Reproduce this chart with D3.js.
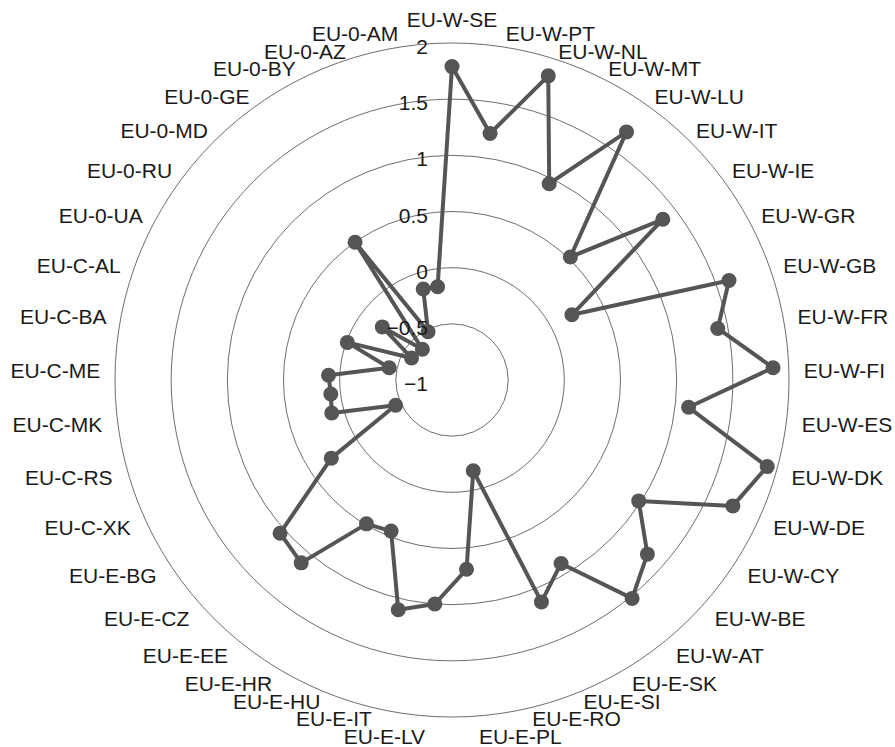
<!DOCTYPE html>
<html><head><meta charset="utf-8">
<script src="https://cdn.jsdelivr.net/npm/d3@7"></script>
<style>
body{margin:0;background:#fff}
text{font-family:"Liberation Sans",Arial,Helvetica,sans-serif}
</style>
</head><body>
<svg id="c" width="895" height="747"></svg>
<script>
const categories = ["EU-W-SE","EU-W-PT","EU-W-NL","EU-W-MT","EU-W-LU","EU-W-IT","EU-W-IE","EU-W-GR","EU-W-GB","EU-W-FR","EU-W-FI","EU-W-ES","EU-W-DK","EU-W-DE","EU-W-CY","EU-W-BE","EU-W-AT",
  "EU-E-SK","EU-E-SI","EU-E-RO","EU-E-PL","EU-E-LV","EU-E-IT","EU-E-HU","EU-E-HR","EU-E-EE","EU-E-CZ","EU-E-BG",
  "EU-C-XK","EU-C-RS","EU-C-MK","EU-C-ME","EU-C-BA","EU-C-AL",
  "EU-0-UA","EU-0-RU","EU-0-MD","EU-0-GE","EU-0-BY","EU-0-AZ","EU-0-AM"];
const values = [1.79,1.22,1.84,0.95,1.70,0.52,1.36,0.215,1.62,1.41,1.86,1.12,1.91,1.74,0.98,1.33,1.52,
  0.90,1.13,-0.17,0.69,1.00,1.10,0.45,0.49,1.11,1.05,0.28,
  -0.45,0.11,0.086,0.10,-0.43,-0.01,
  -0.59,-0.22,-0.62,0.50,-0.52,-0.15,-0.16];
const tickValues = [-1,-0.5,0,0.5,1,1.5,2];
const gridValues = [-0.5,0,0.5,1,1.5,2];

const cx = 452, cy = 380, R = 337, labelR = 352;
const svg = d3.select("#c");
svg.append("rect").attr("width",895).attr("height",747).attr("fill","#fff");
const g = svg.append("g").attr("transform",`translate(${cx},${cy})`);

const angle = d3.scaleBand().domain(categories).range([0, 2*Math.PI]).paddingInner(0).paddingOuter(0);
const r = d3.scaleLinear().domain([-1, 2]).range([0, R]);

// grid circles
g.selectAll("circle.grid").data(gridValues).join("circle")
  .attr("class","grid").attr("r", d => r(d))
  .attr("fill","none").attr("stroke","#6e6e6e").attr("stroke-width",1);

// data line
const data = categories.map((c,i) => ({c, v: values[i]}));
const line = d3.lineRadial()
  .angle(d => angle(d.c))
  .radius(d => r(d.v))
  .curve(d3.curveLinearClosed);
g.append("path").datum(data).attr("d", line)
  .attr("fill","none").attr("stroke","#555").attr("stroke-width",4).attr("stroke-linejoin","round");

g.selectAll("circle.pt").data(data).join("circle")
  .attr("class","pt")
  .attr("cx", d => r(d.v) * Math.sin(angle(d.c)))
  .attr("cy", d => -r(d.v) * Math.cos(angle(d.c)))
  .attr("r", 7.5).attr("fill","#555");

// radial tick labels (on top)
const fmt = d => (d < 0 ? "\u2212" : "") + Math.abs(d);
g.selectAll("text.tick").data(tickValues).join("text")
  .attr("class","tick")
  .attr("x", -24).attr("y", d => -r(d) + 3.5)
  .attr("text-anchor","end").attr("dominant-baseline","central")
  .attr("font-size",21).attr("fill","#1a1a1a")
  .text(fmt);

// category labels
const labs = categories.map(c => {
  const a = angle(c), s = Math.sin(a), co = Math.cos(a);
  const anchor = Math.abs(s) < 0.01 ? "middle" : (s > 0 ? "start" : "end");
  const x = labelR * s;
  const y = -labelR * co + (Math.abs(s) < 0.01 ? (co > 0 ? -9 : 12) : 4);
  return {c, x, y, anchor};
});
const lt = g.selectAll("text.lab").data(labs).join("text")
  .attr("class","lab")
  .attr("text-anchor", d => d.anchor).attr("dominant-baseline","central")
  .attr("font-size",21).attr("fill","#1a1a1a")
  .attr("x", d => d.x).attr("y", d => d.y)
  .text(d => d.c);
lt.each(function(d){ d.w = this.getComputedTextLength(); });
const ext = d => d.anchor === "start" ? [d.x, d.x + d.w] : d.anchor === "end" ? [d.x - d.w, d.x] : [d.x - d.w/2, d.x + d.w/2];
const gap = 17.5, yMax = 736 - cy, yMin = 19 - cy;
for (let it = 0; it < 80; it++) {
  for (let i = 0; i < labs.length; i++) for (let j = i+1; j < labs.length; j++) {
    const A = labs[i], B = labs[j];
    const ea = ext(A), eb = ext(B);
    if (ea[1] <= eb[0] || eb[1] <= ea[0]) continue;
    const dy = B.y - A.y;
    if (Math.abs(dy) < gap) {
      const push = (gap - Math.abs(dy)) / 2, sg = dy >= 0 ? 1 : -1;
      A.y -= sg * push; B.y += sg * push;
    }
  }
  labs.forEach(d => { d.y = Math.max(yMin, Math.min(yMax, d.y)); });
}
lt.attr("y", d => d.y);
</script>
</body></html>
